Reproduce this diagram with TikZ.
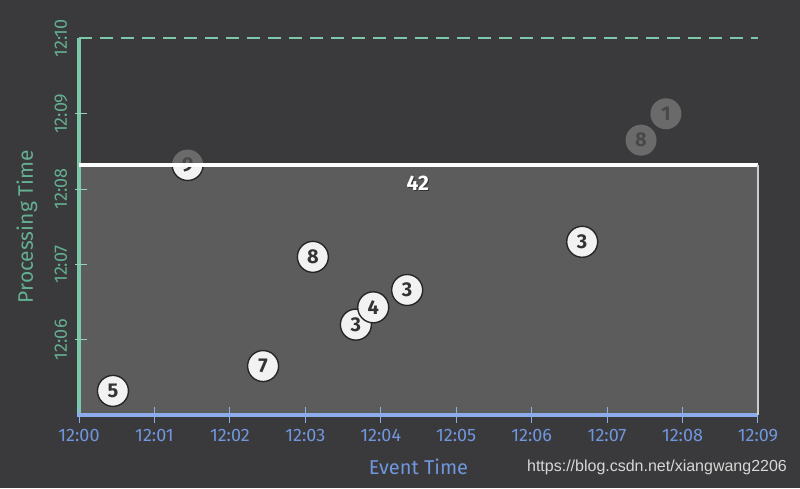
\documentclass[tikz,border=0pt]{standalone}
\usepackage{fontspec}
\setmainfont{Fira Sans}
\newfontfamily\urlfont{Liberation Sans}
\usetikzlibrary{positioning}
\definecolor{bgdark}{RGB}{58,58,60}
\definecolor{plotgray}{RGB}{92,92,92}
\definecolor{axisgreen}{RGB}{125,200,170}
\definecolor{labelgreen}{RGB}{100,175,145}
\definecolor{axisblue}{RGB}{140,172,235}
\definecolor{labelblue}{RGB}{112,150,222}
\definecolor{dimgray}{RGB}{106,106,106}
\definecolor{dimtext}{RGB}{72,72,72}
\definecolor{urlgray}{RGB}{215,215,215}
\tikzstyle{event}=[circle,draw=black!85,line width=1.4pt,fill=black!5,text=black!80,
minimum size=31pt,inner sep=0pt,font=\fontsize{20}{20}\selectfont\bfseries]
\tikzstyle{late}=[circle,fill=dimgray,text=dimtext,
minimum size=31pt,inner sep=0pt,font=\fontsize{20}{20}\selectfont\bfseries]
\tikzstyle{xtick}=[text=labelblue,font=\fontsize{18}{18}\selectfont]
\tikzstyle{ytick}=[text=labelgreen,rotate=90,font=\fontsize{18}{18}\selectfont]
\tikzstyle{title}=[font=\fontsize{20}{20}\selectfont]

\begin{document}
\begin{tikzpicture}[x=75.44pt,y=75.3pt]
            % BACKGROUND PART

            \fill[bgdark] (-1.0472,-0.9695) rectangle (9.5573,5.5113);
            \useasboundingbox (-1.0472,-0.9695) rectangle (9.5573,5.5113);

            \coordinate (o) at (0,0);
            \coordinate (xend) at (9,0);
            \coordinate (yend) at (0,5);
            \coordinate (ytop) at (9,5);
            \coordinate (wl) at (0,3.32);
            \coordinate (wr) at (9,3.32);

            \draw[axisgreen,line width=2pt,dash pattern=on 13pt off 8pt] (yend) -- (ytop);
            \fill[plotgray] (o) rectangle (wr);

            % AXES PART

            \draw[axisgreen,line width=4pt] (o) -- (yend);
            \draw[axisgreen!80,line width=1pt] (-0.05,1) -- (0.1,1);
            \draw[axisgreen!80,line width=1pt] (-0.05,2) -- (0.1,2);
            \draw[axisgreen!80,line width=1pt] (-0.05,3) -- (0.1,3);
            \draw[axisgreen!80,line width=1pt] (-0.05,4) -- (0.1,4);

            \draw[axisblue,line width=4pt] (-0.02,0) -- (xend);
            \draw[axisblue,line width=1pt] (0,-0.1) -- (0,0.1);
            \draw[axisblue,line width=1pt] (1,-0.1) -- (1,0.1);
            \draw[axisblue,line width=1pt] (2,-0.1) -- (2,0.1);
            \draw[axisblue,line width=1pt] (3,-0.1) -- (3,0.1);
            \draw[axisblue,line width=1pt] (4,-0.1) -- (4,0.1);
            \draw[axisblue,line width=1pt] (5,-0.1) -- (5,0.1);
            \draw[axisblue,line width=1pt] (6,-0.1) -- (6,0.1);
            \draw[axisblue,line width=1pt] (7,-0.1) -- (7,0.1);
            \draw[axisblue,line width=1pt] (8,-0.1) -- (8,0.1);
            \draw[axisblue,line width=1pt] (9,-0.1) -- (9,0.1);

            \node[xtick] (x0) at (0,-0.27) {12:00};
            \node[xtick] (x1) at (1,-0.27) {12:01};
            \node[xtick] (x2) at (2,-0.27) {12:02};
            \node[xtick] (x3) at (3,-0.27) {12:03};
            \node[xtick] (x4) at (4,-0.27) {12:04};
            \node[xtick] (x5) at (5,-0.27) {12:05};
            \node[xtick] (x6) at (6,-0.27) {12:06};
            \node[xtick] (x7) at (7,-0.27) {12:07};
            \node[xtick] (x8) at (8,-0.27) {12:08};
            \node[xtick] (x9) at (9,-0.27) {12:09};

            \node[ytick] (y6) at (-0.24,1) {12:06};
            \node[ytick] (y7) at (-0.24,2) {12:07};
            \node[ytick] (y8) at (-0.24,3) {12:08};
            \node[ytick] (y9) at (-0.24,4) {12:09};
            \node[ytick] (y10) at (-0.24,5) {12:10};

            \node[title,text=labelblue] (etime) at (4.5,-0.69) {Event Time};
            \node[title,text=labelgreen,rotate=90,font=\fontsize{21}{21}\selectfont] (ptime) at (-0.69,2.5) {Processing Time};

            % EVENTS PART

            \node[event] (e5) at (0.45,0.32) {5};
            \node[event] (e7) at (2.44,0.65) {7};
            \node[event] (e8) at (3.10,2.10) {8};
            \node[event] (e3a) at (3.67,1.20) {3};
            \node[event] (e4) at (3.90,1.43) {4};
            \node[event] (e3b) at (4.35,1.66) {3};
            \node[event] (e3c) at (6.67,2.30) {3};

            % LATE PART

            \node[late] (l8) at (7.45,3.65) {8};
            \node[late] (l1) at (7.78,4.00) {1};
            \node[late] (l9) at (1.44,3.32) {9};
            \begin{scope}
            \clip (o) rectangle (wr);
            \node[event] (e9) at (1.44,3.32) {9};
            \end{scope}

            % WATERMARK PART

            \draw[white,line width=4pt] (wl) -- (wr);
            \draw[black!20,line width=1.5pt] (wr) -- (xend);
            \node[text=white,font=\fontsize{21}{21}\selectfont\bfseries] (sum) at (4.49,3.07)
            {\rlap{\hspace{1pt}\raisebox{-1pt}{\color{black!80}42}}42};

            \node[urlgray,font=\urlfont\fontsize{16}{16}\selectfont,anchor=east] (url) at (9.43,-0.70)
            {https://blog.csdn.net/xiangwang2206};

        \end{tikzpicture}
\end{document}
